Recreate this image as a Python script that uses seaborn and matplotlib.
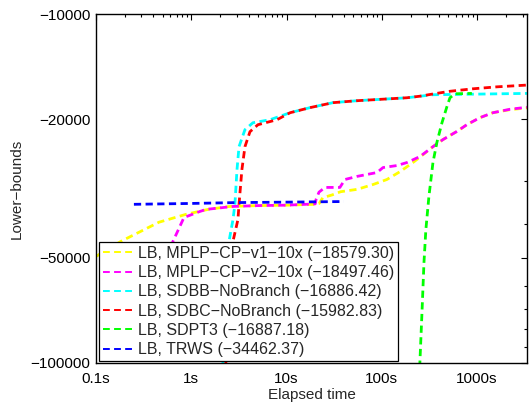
import numpy as np
import pandas as pd
import matplotlib
matplotlib.use("Agg")
import matplotlib.pyplot as plt
import seaborn as sns
from matplotlib.lines import Line2D
from matplotlib.ticker import FixedLocator, FixedFormatter, LogLocator, NullFormatter

M = "\u2212"

# ---------------- data ----------------
t_v1 = [0.1, 0.183, 0.458, 0.88, 1.5, 2.5, 5, 10, 20, 22, 24, 30, 37, 55, 81, 113,
        155, 212, 297, 344, 438, 614, 782, 1069, 1465, 2208, 3334]
lb_v1 = [-49500, -44800, -39500, -37500, -36300, -35600, -35400, -35300, -35100, -34900,
         -33600, -33000, -32300, -31800, -30800, -29800, -28300, -26650, -24800, -24000,
         -22900, -21700, -20750, -19820, -19180, -18800, -18579.30]

t_v2 = [0.55, 0.643, 0.838, 1.23, 1.43, 2.74, 5, 10, 20, 20.4, 21.9, 25.3, 36.3, 41,
        54.8, 88.9, 103, 144, 183, 251, 344, 438, 614, 782, 1069, 1465, 2208, 3334]
lb_v2 = [-50000, -44800, -38300, -36800, -36300, -35600, -35400, -35300, -35000, -34000,
         -32400, -31400, -31400, -29800, -29200, -28460, -27540, -27180, -26650, -25620,
         -24000, -22900, -21700, -20750, -19820, -19180, -18750, -18497.46]

t_sdbb = [2.1, 2.15, 2.49, 2.74, 2.87, 3.02, 3.17, 3.66, 4.44, 6.7, 10.9, 17.6, 30.7,
          54.8, 183, 344, 3334]
lb_sdbb = [-120000, -99000, -44800, -38800, -35100, -27900, -24000, -21450, -20490,
           -20090, -19180, -18550, -17950, -17720, -17380, -17035, -16886.42]

t_sdbc = [2.25, 2.31, 2.74, 3.09, 3.17, 3.40, 3.66, 4.13, 5.01, 7.93, 10.9, 17.6, 30.7,
          54.8, 183, 251, 344, 519, 904, 1614, 3334]
lb_sdbc = [-120000, -99000, -44800, -38800, -35100, -27900, -24000, -21740, -20760,
           -20090, -19180, -18550, -17950, -17720, -17380, -17200, -16950, -16650,
           -16380, -16170, -15982.83]

t_sdpt3 = [248, 251, 264, 277, 290, 312, 344, 378, 428, 482, 519, 585, 881]
lb_sdpt3 = [-130000, -99340, -71500, -51455, -41416, -33346, -26650, -23367, -20485,
            -18434, -17378, -16926, -16887.18]

t_trws = [0.25, 1, 3, 10, 40]
lb_trws = [-35100, -34900, -34700, -34600, -34462.37]

labels = [f"LB, MPLP{M}CP{M}v1{M}10x ({M}18579.30)",
          f"LB, MPLP{M}CP{M}v2{M}10x ({M}18497.46)",
          f"LB, SDBB{M}NoBranch ({M}16886.42)",
          f"LB, SDBC{M}NoBranch ({M}15982.83)",
          f"LB, SDPT3 ({M}16887.18)",
          f"LB, TRWS ({M}34462.37)"]
colors = ["#ffff00", "#ff00ff", "#00ffff", "#ff0000", "#00ff00", "#0000ff"]

x_ticks = [0.1, 1, 10, 100, 1000]
x_ticklabels = ["0.1s", "1s", "10s", "100s", "1000s"]
y_ticks = [-100000, -50000, -20000, -10000]
y_ticklabels = [f"{M}100000", f"{M}50000", f"{M}20000", f"{M}10000"]
y_minor = [-90000, -80000, -70000, -60000, -40000, -30000]

series = [(t_v1, lb_v1), (t_v2, lb_v2), (t_sdbb, lb_sdbb), (t_sdbc, lb_sdbc),
          (t_sdpt3, lb_sdpt3), (t_trws, lb_trws)]
frames = []
for lab, (t, v) in zip(labels, series):
    frames.append(pd.DataFrame({"time": t, "lb": v, "method": lab}))
df = pd.concat(frames, ignore_index=True)

# ---------------- plot ----------------
sns.set_theme(style="white")
plt.rcParams["font.family"] = ["Liberation Sans", "DejaVu Sans"]
plt.rcParams["font.size"] = 11
plt.rcParams["axes.unicode_minus"] = True

W, H = 529, 403
fig = plt.figure(figsize=(W / 100, H / 100), dpi=100)
L, R, T, B = 96, 527, 14, 363
ax = fig.add_axes([L / W, 1 - B / H, (R - L) / W, (B - T) / H])

sns.lineplot(data=df, x="time", y="lb", hue="method", hue_order=labels,
             palette=colors, estimator=None, sort=False, linewidth=2.0,
             ax=ax, legend=False)
for ln in ax.lines:
    ln.set_dashes((2.6, 1.6))
    ln.set_dash_capstyle("butt")


def fwd(y):
    y = np.asarray(y, dtype=float)
    with np.errstate(invalid="ignore", divide="ignore"):
        return -np.log10(np.where(y < 0, -y, np.nan))


def inv(u):
    u = np.asarray(u, dtype=float)
    return -np.power(10.0, -u)


ax.set_xscale("log")
ax.set_yscale("function", functions=(fwd, inv))
ax.set_xlim(0.1, 3340)
ax.set_ylim(-100000, -10000)

ax.xaxis.set_major_locator(FixedLocator(x_ticks))
ax.xaxis.set_major_formatter(FixedFormatter(x_ticklabels))
ax.xaxis.set_minor_locator(LogLocator(base=10, subs=np.arange(2, 10), numticks=20))
ax.xaxis.set_minor_formatter(NullFormatter())
ax.yaxis.set_major_locator(FixedLocator(y_ticks))
ax.yaxis.set_major_formatter(FixedFormatter(y_ticklabels))
ax.yaxis.set_minor_locator(FixedLocator(y_minor))
ax.yaxis.set_minor_formatter(NullFormatter())

ax.tick_params(which="both", direction="in", top=True, right=True,
               colors="black", labelsize=11, width=0.8)
ax.tick_params(which="major", length=4)
ax.tick_params(which="minor", length=2.2)
ax.tick_params(axis="x", which="major", pad=6.5)
ax.tick_params(axis="y", which="major", pad=4)
for s in ax.spines.values():
    s.set_visible(True)
    s.set_color("black")
    s.set_linewidth(1.0)

ax.set_xlabel("Elapsed time", fontsize=11, labelpad=1.5)
ax.set_ylabel(f"Lower{M}bounds", fontsize=11, labelpad=5)

handles = [Line2D([0], [0], color=c, lw=1.4, dashes=(3.5, 2.2)) for c in colors]
leg = ax.legend(handles, labels, loc="lower left",
                bbox_to_anchor=(0.007, 0.006), borderaxespad=0,
                fancybox=False, framealpha=1, edgecolor="black",
                fontsize=11.5, handlelength=2.05, handletextpad=0.2,
                labelspacing=0.27, borderpad=0.22)
leg.get_frame().set_linewidth(0.9)
leg.set_zorder(10)

fig.savefig("out.png", dpi=100)
